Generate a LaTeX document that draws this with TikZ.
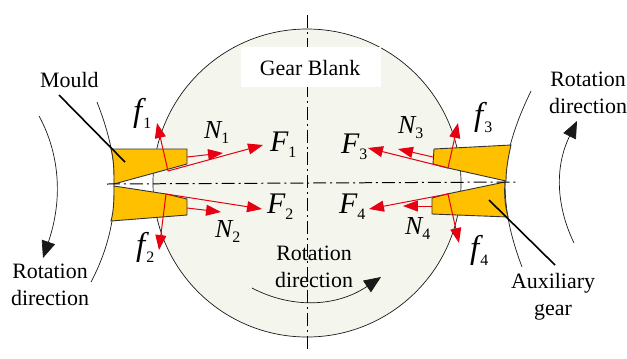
\documentclass[tikz,border=0pt]{standalone}
\usepackage{fontspec}
\setmainfont{Liberation Serif}
\usetikzlibrary{arrows.meta}
\definecolor{blank}{HTML}{F4F5ED}
\definecolor{gold}{HTML}{FFC000}
\definecolor{fred}{HTML}{E60012}
\newcommand{\sym}[5]{{\fontsize{#1}{#1}\selectfont\itshape #2}\kern#4pt\raisebox{#5pt}{\fontsize{16}{16}\selectfont #3}}
\tikzset{
  lab/.style={inner sep=0pt,anchor=base west,font=\fontsize{22}{27}\selectfont},
  captext/.style={inner sep=0pt,anchor=base,align=center,font=\fontsize{22}{27}\selectfont},
  thinl/.style={line width=0.7pt,black!90},
  leader/.style={line width=1.6pt,black},
  axisl/.style={line width=1pt,black,dash pattern=on 13pt off 4pt on 2pt off 4pt},
  mould/.style={fill=gold,draw=black!80,line width=0.9pt},
  force/.style={line width=1.0pt,fred,-{Triangle[length=15pt,width=11pt]}},
  rot/.style={line width=0.7pt,black!90,-{Triangle[length=17pt,width=14pt]}}
}
\begin{document}
\begin{tikzpicture}[x=1bp,y=-1bp]
\useasboundingbox (0,0) rectangle (627,358);
% gear blank
\node[circle,minimum size=308bp,inner sep=0pt,fill=blank,draw=black!90,line width=0.7pt] (blank) at (307,183) {};
% centre lines
\coordinate (vt) at (307,15); \coordinate (vb) at (307,350);
\coordinate (hl) at (107,184); \coordinate (hr) at (517,182);
\draw[axisl] (vt) -- (vb);
% label patch
\fill[white] (241,47) rectangle (381,87);
\node[captext] (gb) at (310,75) {Gear Blank};
% tool arcs
\coordinate (la) at (97,102); \coordinate (lb) at (91,282);
\coordinate (ra) at (531,91); \coordinate (rb) at (522,267);
\draw[thinl] (la) .. controls (110,135) and (116,165) .. (114,185) .. controls (116,215) and (108,250) .. (lb);
\draw[thinl] (ra) .. controls (512,130) and (505,160) .. (505,182) .. controls (505,210) and (510,235) .. (rb);
% moulds
\path[mould] (111,149) -- (187,149) -- (187,164) -- (114,184) .. controls (114,172) and (114,160) .. cycle;
\path[mould] (114,186) -- (166,194) -- (187,199) -- (187,215) -- (111,221) .. controls (114,210) and (114,198) .. cycle;
\path[mould] (434,149) -- (511,145) .. controls (508,158) and (506,170) .. (506,181) -- (448,168) -- (433,164) -- cycle;
\path[mould] (505,182) -- (447,194) -- (432,198) -- (432,214) -- (508,217) .. controls (505,205) and (504,195) .. cycle;
\draw[axisl] (hl) -- (hr);
% leaders
\coordinate (m1) at (59,95); \coordinate (m2) at (125,162);
\coordinate (a1) at (489,200); \coordinate (a2) at (555,265);
\draw[leader] (m1) -- (m2);
\draw[leader] (a1) -- (a2);
% forces
\coordinate (o1) at (168,171); \coordinate (o2) at (166,194);
\coordinate (o3) at (448,168); \coordinate (o4) at (448,194);
\coordinate (F1t) at (263,145); \coordinate (f1t) at (157,123);
\coordinate (N1s) at (187,157); \coordinate (N1t) at (223,153);
\coordinate (F2t) at (262,209); \coordinate (f2t) at (159,250);
\coordinate (N2s) at (187,208); \coordinate (N2t) at (221,212);
\coordinate (F3t) at (368,148); \coordinate (f3t) at (458,123);
\coordinate (N3s) at (433,157); \coordinate (N3t) at (398,149);
\coordinate (F4t) at (369,209); \coordinate (f4t) at (459,243);
\coordinate (N4s) at (432,206); \coordinate (N4t) at (403,206);
\foreach \a/\b in {o1/F1t,o1/f1t,N1s/N1t,o2/F2t,o2/f2t,N2s/N2t,o3/F3t,o3/f3t,N3s/N3t,o4/F4t,o4/f4t,N4s/N4t}
  \draw[force] (\a) -- (\b);
% rotation arrows
\coordinate (r1a) at (39,116); \coordinate (r1t) at (43,258);
\coordinate (r2a) at (574,243); \coordinate (r2t) at (577,121);
\coordinate (r3a) at (252,288); \coordinate (r3t) at (381,277);
\draw[rot] (r1a) .. controls (55,145) and (66,190) .. (r1t);
\draw[rot] (r2a) .. controls (558,210) and (553,170) .. (r2t);
\draw[rot] (r3a) .. controls (290,308) and (335,308) .. (r3t);
% labels (multi-line nodes are placed by the baseline of their last line)
\node[lab] (mo) at (40,87) {Mould};
\node[captext] (rl) at (50,305) {Rotation\\direction};
\node[captext] (rr) at (588,113) {Rotation\\direction};
\node[captext] (rc) at (314,287) {Rotation\\direction};
\node[captext] (ag) at (553,315) {Auxiliary\\gear};
\node[lab] (lf1) at (133,121) {\sym{33}{f}{1}{1}{-8}};
\node[lab] (lN1) at (204,138) {\sym{26}{N}{1}{0}{-6}};
\node[lab] (lF1) at (270,151) {\sym{30}{F}{1}{0}{-7}};
\node[lab] (lf2) at (136,255) {\sym{33}{f}{2}{1}{-8}};
\node[lab] (lN2) at (215,237) {\sym{26}{N}{2}{0}{-6}};
\node[lab] (lF2) at (267,213) {\sym{30}{F}{2}{0}{-7}};
\node[lab] (lf3) at (474,125) {\sym{33}{f}{3}{1}{-8}};
\node[lab] (lN3) at (398,133) {\sym{26}{N}{3}{0}{-6}};
\node[lab] (lF3) at (341,153) {\sym{30}{F}{3}{0}{-7}};
\node[lab] (lf4) at (470,258) {\sym{33}{f}{4}{1}{-8}};
\node[lab] (lN4) at (405,234) {\sym{26}{N}{4}{0}{-6}};
\node[lab] (lF4) at (339,213) {\sym{30}{F}{4}{0}{-7}};
\end{tikzpicture}
\end{document}
